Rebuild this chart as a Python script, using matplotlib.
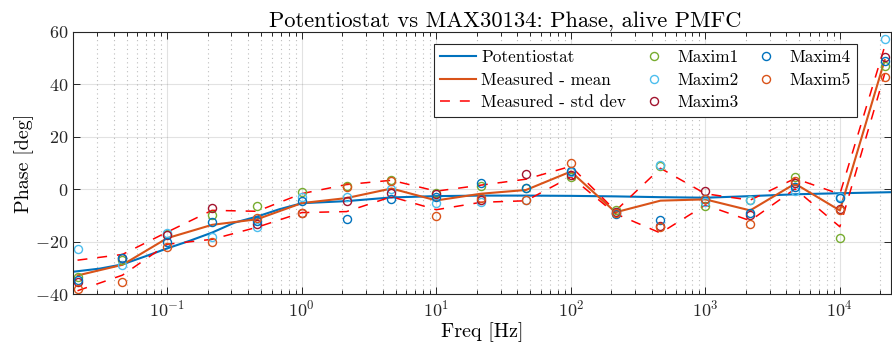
import numpy as np
import matplotlib
matplotlib.use("Agg")
import matplotlib.pyplot as plt
from matplotlib.ticker import FixedLocator, NullFormatter, LogFormatterSciNotation

plt.rcParams['font.family'] = ['cmr10', 'DejaVu Serif']
plt.rcParams['mathtext.fontset'] = 'cm'
plt.rcParams['axes.unicode_minus'] = False
plt.rcParams['axes.formatter.use_mathtext'] = True

# ---- data ----
freq = [0.0215, 0.0464, 0.1, 0.215, 0.464, 1, 2.15, 4.64, 10, 21.5, 46.4, 100,
        215, 464, 1000, 2154, 4642, 10000, 21544]
maxim1 = [-33.5, -27, -17, -9.8, -6.5, -1, 1.4, 3.5, -1.3, 1.4, 0.5, 4.8,
          -8, 9.0, -6.4, -4.1, 4.6, -18.4, 47]
maxim2 = [-22.8, -29, -16.5, -18.3, -14.3, -3, -3, 0, -5.1, -4.7, -4.1, 6.5,
          -8.5, 9.3, -4.7, -4.1, -0.5, -3, 57.1]
maxim3 = [-35.5, -26.3, -17.5, -7, -13.3, -9, -4.5, -1.5, -1.8, -4, 5.8, 5.5,
          -8.8, -14, -0.5, -9.7, 2.3, -7.6, 50.3]
maxim4 = [-34.5, -26, -20, -12.6, -12.2, -4.3, -11.4, -3.8, -3, 2.3, 0.6, 7,
          -9.5, -11.7, -3.8, -9.1, 1.0, -3.4, 48.9]
maxim5 = [-37.8, -35.5, -22, -20, -10.8, -9, 0.8, 3.3, -10, -3.4, -4.1, 10,
          -9, -14.2, -3.8, -13.2, 3.3, -7.9, 42.9]

pot_freq = [0.02, 0.0316, 0.0464, 0.0681, 0.1, 0.147, 0.215, 0.316, 0.464, 0.681,
            1, 1.47, 2.15, 4.64, 10, 21.5, 46.4, 100, 215, 464, 1000, 2154,
            4642, 10000, 24000]
pot_phase = [-31.4, -30.2, -28.6, -25.6, -22.5, -19.6, -16.5, -12.7, -10.4, -7.6,
             -5.3, -4.9, -4.5, -3.1, -2.6, -2.4, -2.4, -2.5, -2.7, -3.0, -3.2,
             -2.6, -1.9, -1.5, -1.1]

series_labels = ['Maxim1', 'Maxim2', 'Maxim3', 'Maxim4', 'Maxim5']
series_colors = ['#77AC30', '#4DBEEE', '#A2142F', '#0072BD', '#D95319']

x_major = [0.1, 1, 10, 100, 1000, 10000]
y_major = [-40, -20, 0, 20, 40, 60]

maxim = np.array([maxim1, maxim2, maxim3, maxim4, maxim5])
mean = maxim.mean(axis=0)
std = maxim.std(axis=0, ddof=1)

fig = plt.figure(figsize=(8.92, 3.49), dpi=100)
ax = fig.add_axes([73.3 / 892, 1 - 294.3 / 349, 817.7 / 892, 262.5 / 349])

ax.plot(pot_freq, pot_phase, color='#0072BD', lw=1.5, label='Potentiostat')
ax.plot(freq, mean, color='#D95319', lw=1.5, label='Measured - mean')
ax.plot(freq, mean + std, color='#FF0000', lw=1.1, dashes=(6.5, 6.5),
        label='Measured - std dev')
ax.plot(freq, mean - std, color='#FF0000', lw=1.1, dashes=(6.5, 6.5))
for vals, lab, col in zip(maxim, series_labels, series_colors):
    ax.plot(freq, vals, ls='none', marker='o', ms=5.8, mfc='none', mec=col,
            mew=1.0, label=lab)

ax.set_xscale('log')
xmin, xmax = 0.02, 24000
ax.set_xlim(xmin, xmax)
ax.set_ylim(-40, 60)
ax.yaxis.set_major_locator(FixedLocator(y_major))
ax.xaxis.set_major_locator(FixedLocator(x_major))
ax.xaxis.set_major_formatter(LogFormatterSciNotation(base=10))
minor = [m * 10.0 ** e for e in range(-2, 5) for m in range(2, 10)]
minor = [v for v in minor if xmin < v < xmax]
ax.xaxis.set_minor_locator(FixedLocator(minor))
ax.xaxis.set_minor_formatter(NullFormatter())

axcol = '#262626'
for s in ax.spines.values():
    s.set_color(axcol)
    s.set_linewidth(0.8)
ax.tick_params(which='both', direction='in', top=True, right=True, colors=axcol,
               labelsize=13, width=0.7)
ax.tick_params(which='major', length=5)
ax.tick_params(which='minor', length=3)
ax.tick_params(axis='y', which='minor', left=False, right=False)

ax.grid(True, which='major', color='#262626', alpha=0.13, lw=0.8, ls='-')
ax.grid(True, which='minor', axis='x', color='#262626', alpha=0.3, lw=0.8,
        ls=(0, (1, 3)))
ax.set_axisbelow(True)

ax.set_xlabel('Freq [Hz]', fontsize=14.5, labelpad=2)
ax.set_ylabel('Phase [deg]', fontsize=14.5, labelpad=0.5)
ax.set_title('Potentiostat vs MAX30134: Phase, alive PMFC', fontsize=16.2, pad=4,
             x=0.528)

leg = ax.legend(ncol=3, loc='upper left',
                bbox_to_anchor=((434 - 73.3) / 817.7, 1 - (44 - 31.8) / 262.5),
                borderaxespad=0, fontsize=12.4, fancybox=False, framealpha=1,
                edgecolor='#262626', handlelength=2.1, handletextpad=0.3,
                columnspacing=0.55, labelspacing=0.42, borderpad=0.35)
leg.get_frame().set_linewidth(0.8)

fig.savefig('out.png', dpi=100)
